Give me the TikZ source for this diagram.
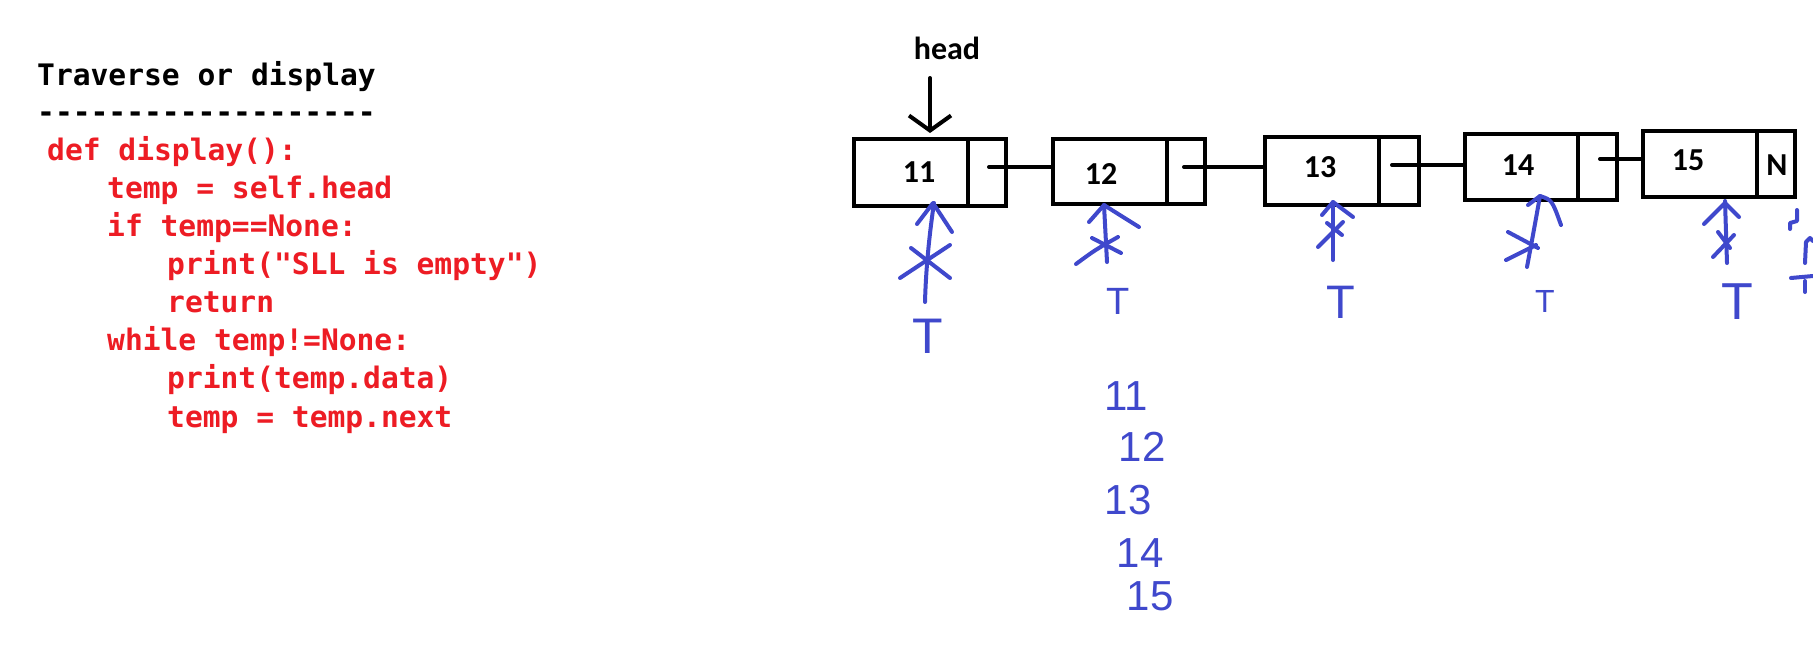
\documentclass[tikz,border=0pt]{standalone}
\usepackage{fontspec}
\setmonofont{DejaVu Sans Mono}
\newfontfamily\boxfont{Carlito}
\newfontfamily\handfont{Liberation Sans}
\usetikzlibrary{arrows.meta}
\definecolor{codered}{RGB}{237,28,36}
\definecolor{penblue}{RGB}{63,72,204}
\tikzset{
  datacell/.style={draw=black, line width=4pt, inner sep=0pt, minimum width=114pt, minimum height=66pt},
  ptrcell/.style={draw=black, line width=4pt, inner sep=0pt, minimum width=38pt, minimum height=66pt},
  val/.style={font=\boxfont\bfseries\fontsize{32}{32}\selectfont, inner sep=0pt},
  link/.style={draw=black, line width=4pt, line cap=round},
  code/.style={anchor=base west, inner sep=0pt, font=\ttfamily\bfseries\fontsize{29.6}{29.6}\selectfont},
  redcode/.style={code, text=codered},
  pen/.style={draw=penblue, line width=4pt, line cap=round, line join=round},
  hand/.style={text=penblue, inner sep=0pt, font=\handfont\fontsize{#1}{#1}\selectfont},
}
\begin{document}
\begin{tikzpicture}[x=1pt, y=-1pt]
\useasboundingbox[fill=white] (0,0) rectangle (1813,654);

% ---- code ----
\node[code] (title) at (37,85) {Traverse or display};
\node[code] (rule) at (37,122) {-------------------};
\node[redcode] (c1) at (47,160) {def display():};
\node[redcode] (c2) at (107,198) {temp = self.head};
\node[redcode] (c3) at (107,236) {if temp==None:};
\node[redcode] (c4) at (167,274) {print("SLL is empty")};
\node[redcode] (c5) at (167,312) {return};
\node[redcode] (c6) at (107,350) {while temp!=None:};
\node[redcode] (c7) at (167,388) {print(temp.data)};
\node[redcode] (c8) at (167,427) {temp = temp.next};

% ---- list nodes ----
\node[datacell, minimum height=67pt] (d11) at (911,172.5) {};
\node[ptrcell, minimum height=67pt] (p11) at (987,172.5) {};
\node[datacell, minimum height=65pt] (d12) at (1110,171.5) {};
\node[ptrcell, minimum height=65pt] (p12) at (1186,171.5) {};
\node[datacell, minimum height=68pt] (d13) at (1322,171) {};
\node[ptrcell, minimum width=40pt, minimum height=68pt] (p13) at (1399,171) {};
\node[datacell, minimum width=113pt] (d14) at (1521.5,167) {};
\node[ptrcell, minimum width=39pt] (p14) at (1597.5,167) {};
\node[datacell] (d15) at (1700,164) {};
\node[ptrcell] (p15) at (1776,164) {};

\node[val] (v11) at (919,172) {11};
\node[val] (v12) at (1101,174) {12};
\node[val] (v13) at (1320,167) {13};
\node[val] (v14) at (1518,165) {14};
\node[val] (v15) at (1688,160) {15};
\node[val] (vN) at (1777,165) {N};

% links
\draw[link] ([shift={(2pt,5.5pt)}]p11.center) coordinate (s1) -- (s1 -| d12.west);
\draw[link] ([shift={(-2pt,4.5pt)}]p12.center) coordinate (s2) -- (s2 -| d13.west);
\draw[link] ([shift={(-7pt,6pt)}]p13.center) coordinate (s3) -- (s3 -| d14.west);
\draw[link] ([shift={(2.5pt,8pt)}]p14.center) coordinate (s4) -- (s4 -| d15.west);

% head
\node[val] (head) at (947,48) {head};
\coordinate (ha) at (930,78);
\draw[link, -{Straight Barb[length=15pt, width=42pt, line width=4pt]}] (ha) -- (930,133);

% ---- blue sketches ----
% node 11
\draw[pen] (925,302) .. controls (926,265) and (930,230) .. (934,203);
\draw[pen] (917,224) -- (933,203) -- (952,232);
\draw[pen] (900,278) -- (950,245);
\draw[pen] (911,248) -- (950,278);
\node[hand=50] (t11) at (928,336) {T};
% node 12
\draw[pen] (1107,262) -- (1104,205);
\draw[pen] (1089,222) -- (1104,205) .. controls (1115,212) .. (1139,227);
\draw[pen] (1076,264) .. controls (1095,250) .. (1118,237);
\draw[pen] (1092,238) -- (1121,253);
\node[hand=38] (t12) at (1118,301) {T};
% node 13
\draw[pen] (1333,260) -- (1333,202);
\draw[pen] (1322,215) -- (1333,202) -- (1353,217);
\draw[pen] (1318,247) -- (1343,222);
\draw[pen] (1327,223) -- (1342,235);
\node[hand=47] (t13) at (1341,302) {T};
% node 14
\draw[pen] (1527,267) .. controls (1533,235) .. (1540,196);
\draw[pen] (1528,205) -- (1540,196) .. controls (1552,200) .. (1561,225);
\draw[pen] (1508,232) -- (1538,248);
\draw[pen] (1506,260) -- (1536,245);
\node[hand=32] (t14) at (1545,301) {T};
% node 15
\draw[pen] (1727,263) -- (1725,201);
\draw[pen] (1704,224) -- (1725,203) -- (1739,217);
\draw[pen] (1713,257) -- (1734,235);
\draw[pen] (1718,232) -- (1730,248);
\node[hand=52] (t15) at (1737,302) {T};
% edge marks
\draw[pen] (1797,210) -- (1797,221) -- (1790,223) -- (1790,229);
\draw[pen] (1805,263) -- (1806,242) -- (1810,238) -- (1813,241);
\draw[pen] (1791,278) -- (1813,276);
\draw[pen] (1805,281) -- (1805,292);

% printed output
\node[hand=42] (o11) at (1126,396) {11};
\node[hand=42] (o12) at (1142,447) {12};
\node[hand=42] (o13) at (1128,500) {13};
\node[hand=42] (o14) at (1140,553) {14};
\node[hand=42] (o15) at (1150,596) {15};
\end{tikzpicture}
\end{document}
